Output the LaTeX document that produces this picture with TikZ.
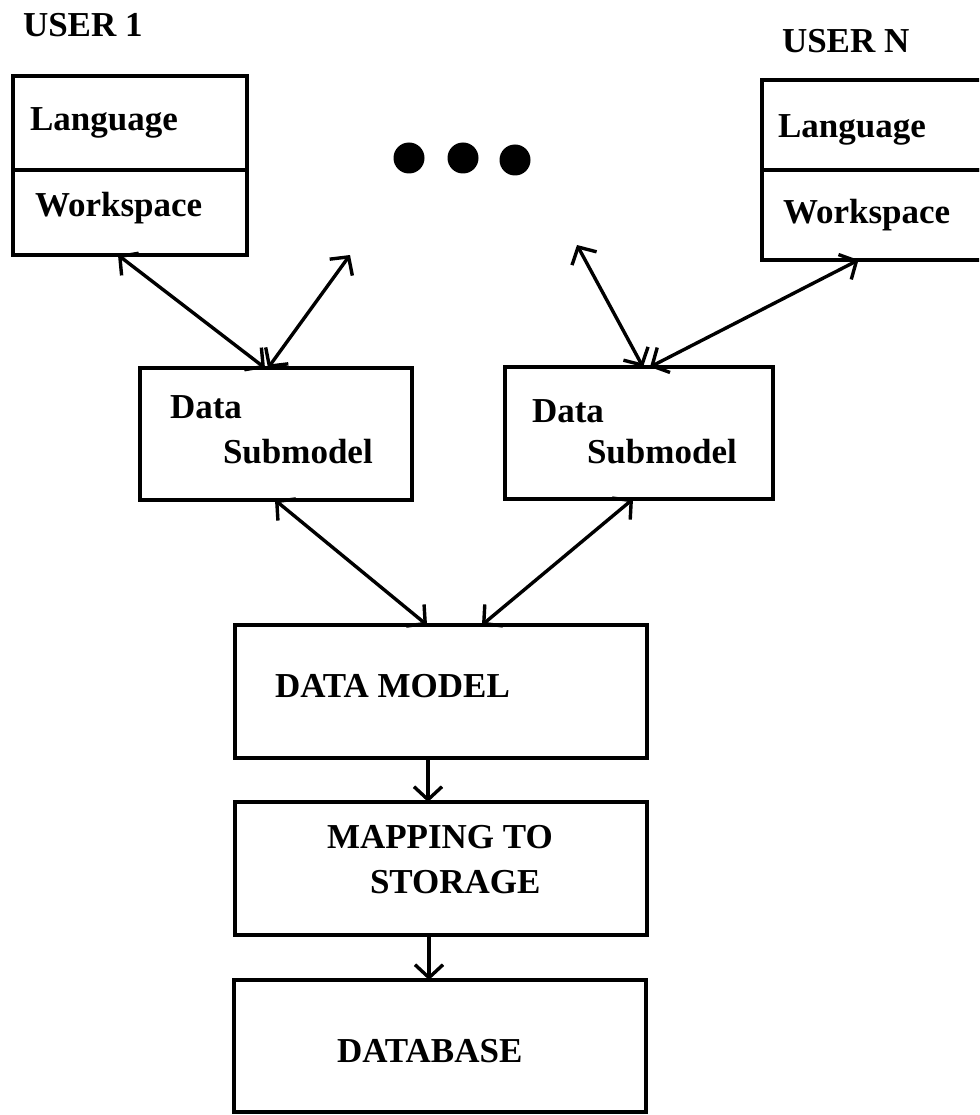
\documentclass[tikz,border=0pt]{standalone}
\usepackage{fontspec}
\setmainfont{Liberation Serif}
\usetikzlibrary{arrows.meta}
\begin{document}
\begin{tikzpicture}[x=1pt,y=-1pt,
  box/.style={draw, line width=3.6pt, inner sep=0pt, outer sep=0pt},
  lbl/.style={inner sep=0pt, outer sep=0pt, anchor=base west,
              font=\bfseries\fontsize{35}{42}\selectfont},
  tip/.tip={Straight Barb[length=13pt,width=28pt,line width=3.4pt]},
  link/.style={line width=3.4pt, tip-tip},
  flow/.style={line width=3.4pt, -tip},
  dot/.style={circle, fill, inner sep=0pt, minimum size=31pt}]
\path[use as bounding box] (0,0) rectangle (979,1115);
\clip (0,0) rectangle (979,1115);

% user 1
\node[lbl] (u1) at (23,37) {USER 1};
\node[box, minimum width=234pt, minimum height=94pt] (lang1) at (130,123) {};
\node[box, minimum width=234pt, minimum height=85pt] (ws1) at (130,212.5) {};
\node[lbl] (tl1) at (30,131) {Language};
\node[lbl] (tw1) at (35,217) {Workspace};

% user N
\node[lbl] (un) at (782,53) {USER N};
\node[box, minimum width=223pt, minimum height=90pt] (lang2) at (873.5,125) {};
\node[box, minimum width=223pt, minimum height=90pt] (ws2) at (873.5,215) {};
\node[lbl] (tl2) at (778,138) {Language};
\node[lbl] (tw2) at (783,223) {Workspace};

% ellipsis between the users
\node[dot] (d1) at (409,158) {};
\node[dot] (d2) at (463,158) {};
\node[dot] (d3) at (515,160) {};

% data submodels
\node[box, minimum width=272pt, minimum height=132pt] (ds1) at (276,434) {};
\node[lbl] (td1) at (170,418) {Data};
\node[lbl] (ts1) at (223,463) {Submodel};
\node[box, minimum width=268pt, minimum height=132pt] (ds2) at (639,433) {};
\node[lbl] (td2) at (532,422) {Data};
\node[lbl] (ts2) at (587,463) {Submodel};

% central stack
\node[box, minimum width=412pt, minimum height=133pt] (dm) at (441,691.5) {};
\node[lbl] (tdm) at (275,697) {DATA MODEL};
\node[box, minimum width=412pt, minimum height=133pt] (map) at (441,868.5) {};
\node[lbl] (tm1) at (327,848) {MAPPING TO};
\node[lbl] (tm2) at (370,893) {STORAGE};
\node[box, minimum width=412pt, minimum height=132pt] (db) at (440,1046) {};
\node[lbl] (tdb) at (337,1062) {DATABASE};

% free ends of the links toward the elided users
\coordinate (f1) at (350,255);
\coordinate (f2) at (577,245);

% links
\draw[link] ([xshift=-12pt]ws1.south) -- ([xshift=-11pt]ds1.north);
\draw[link] (f1) -- ([xshift=-8pt]ds1.north);
\draw[link] (f2) -- ([xshift=4pt]ds2.north);
\draw[link] ([xshift=-15pt]ws2.south) -- ([xshift=11pt]ds2.north);
\draw[link] ([xshift=-1pt]ds1.south) -- ([xshift=-14pt]dm.north);
\draw[link] ([xshift=-6pt]ds2.south) -- ([xshift=41pt]dm.north);
\draw[flow] ([xshift=-13pt]dm.south) -- ([xshift=-13pt]map.north);
\draw[flow] ([xshift=-12pt]map.south) -- ([xshift=-11pt]db.north);
\end{tikzpicture}
\end{document}
